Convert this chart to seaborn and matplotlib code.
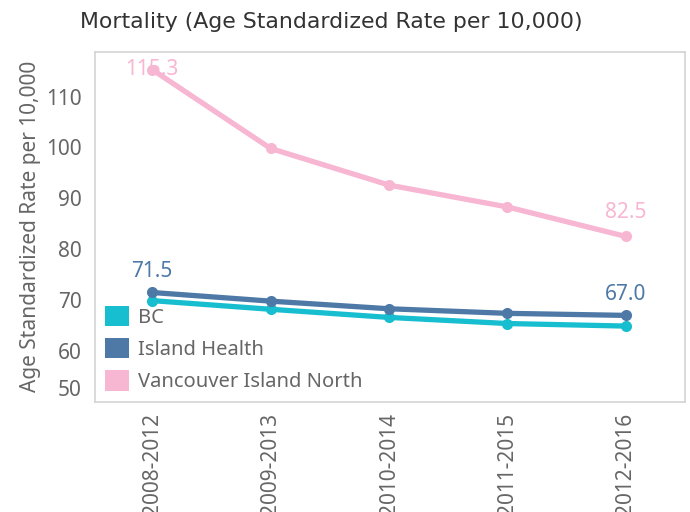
"""
plot.py
-------
Mortality (age standardized rate per 10,000) line chart, Tableau look.
"""

import pandas as pd
import matplotlib
matplotlib.use("Agg")
import matplotlib.pyplot as plt
import matplotlib.ticker as mtick
import matplotlib.transforms as mtrans
from matplotlib.patches import Patch
import seaborn as sns

# ---------------------------------------------------------------------------
# Data
# ---------------------------------------------------------------------------

periods = ["2008-2012", "2009-2013", "2010-2014", "2011-2015", "2012-2016"]
bc = [69.9, 68.2, 66.6, 65.4, 64.9]
island_health = [71.5, 69.8, 68.3, 67.4, 67.0]
vancouver_north = [115.3, 99.8, 92.6, 88.3, 82.5]

series_names = ["BC", "Island Health", "Vancouver Island North"]
series_colors = ["#17BECF", "#4E79A7", "#F7B6D2"]

y_ticks = [50, 60, 70, 80, 90, 100, 110]

TEXT_GRAY = "#666666"
FRAME_GRAY = "#D4D4D4"
FS = 15

# ---------------------------------------------------------------------------
# Build long table
# ---------------------------------------------------------------------------

rows = []
for name, vals in zip(series_names, [bc, island_health, vancouver_north]):
    for p, v in zip(periods, vals):
        rows.append({"period": p, "series": name, "rate": v})
df = pd.DataFrame(rows)

sns.set_style("white")
plt.rcParams["font.family"] = ["Noto Sans", "DejaVu Sans"]

fig = plt.figure(figsize=(6.9, 5.12), dpi=100)
ax = fig.add_axes([0.138, 0.215, 0.855, 0.684])

palette = dict(zip(series_names, series_colors))
sns.lineplot(
    data=df, x="period", y="rate", hue="series", palette=palette,
    hue_order=["Vancouver Island North", "BC", "Island Health"],
    marker="o", markersize=8, markeredgewidth=0, linewidth=3.8,
    sort=False, legend=False, ax=ax,
)

# First / last value labels
last = len(periods) - 1
labels = [
    (0, vancouver_north[0], "#F7B6D2", 0),
    (last, vancouver_north[last], "#F7B6D2", 17),
    (0, island_health[0], "#4E79A7", 15),
    (last, island_health[last], "#4E79A7", 15),
]
for i, v, col, off in labels:
    ax.annotate(f"{v:.1f}", (i, v), textcoords="offset points",
                xytext=(0, off), ha="center", va="center",
                fontsize=FS, color=col)

ax.set_xlim(-0.48, 4.5)
ax.set_ylim(50, 118.8)
ax.set_yticks(y_ticks)
ax.yaxis.set_minor_locator(mtick.MultipleLocator(5))
ax.tick_params(axis="y", which="both", length=6.5, color="#EAEAEA",
               labelcolor=TEXT_GRAY, labelsize=FS, pad=3)
ax.tick_params(axis="x", length=0, labelcolor=TEXT_GRAY, labelsize=FS,
               rotation=90, pad=8)
ax.set_xlabel("")
ax.set_ylabel("Age Standardized Rate per 10,000", color=TEXT_GRAY,
              fontsize=FS, labelpad=4)
for s in ax.spines.values():
    s.set_color(FRAME_GRAY)
    s.set_linewidth(1.2)

# bottom tick label sits above its tick, as in Tableau
fig.canvas.draw()
lowest = ax.get_yticklabels()[0]
lowest.set_transform(lowest.get_transform()
                     + mtrans.ScaledTranslation(0, 0.14, fig.dpi_scale_trans))

handles = [Patch(facecolor=c, edgecolor="none", label=n)
           for n, c in zip(series_names, series_colors)]
leg = ax.legend(handles=handles, loc="lower left", frameon=False,
                fontsize=14.5, handlelength=1.2, handleheight=1.2,
                handletextpad=0.45, labelspacing=0.5,
                borderpad=0, borderaxespad=0,
                bbox_to_anchor=(0.017, 0.028))
for t in leg.get_texts():
    t.set_color(TEXT_GRAY)

fig.text(0.116, 0.958, "Mortality (Age Standardized Rate per 10,000)",
         fontsize=15.8, color="#333333", ha="left", va="center",
         family="DejaVu Sans")

fig.savefig("out.png", dpi=100)
